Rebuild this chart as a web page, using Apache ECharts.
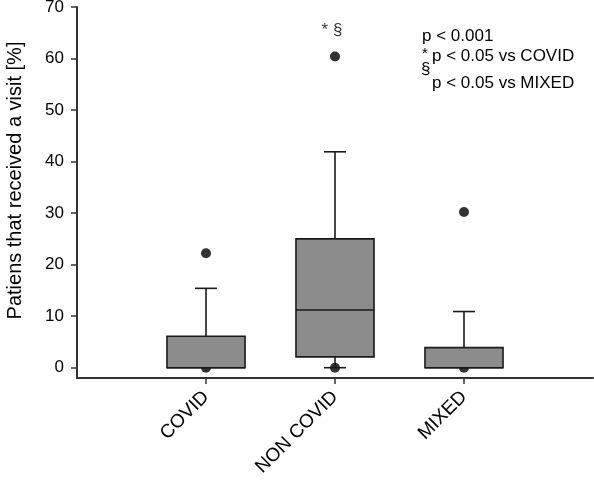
<!DOCTYPE html>
<html>
<head>
<meta charset="utf-8">
<script src="https://cdn.jsdelivr.net/npm/echarts@6/dist/echarts.min.js"></script>
<style>html,body{margin:0;padding:0;background:#fff}#c{width:594px;height:482px}</style>
</head>
<body>
<div id="c"></div>
<script>
var categories = ['COVID', 'NON COVID', 'MIXED'];
// [lowerWhisker, q1, median, q3, upperWhisker]
var boxStats = [
  [0, 0, 0, 6.1, 15.4],
  [0, 2.1, 11.2, 25.0, 41.9],
  [0, 0, 0, 3.9, 10.9]
];
// outliers: [categoryIndex (0-based), value]
var outliers = [[0, 0], [0, 22.2], [1, 0], [1, 60.4], [2, 0], [2, 30.2]];
var yTicks = [0, 10, 20, 30, 40, 50, 60, 70];
var yTitle = 'Patiens that received a visit [%]';
var pLines = ['p < 0.001', 'p < 0.05 vs COVID', 'p < 0.05 vs MIXED'];
var sigMark = '* §';

var axisCats = [''].concat(categories).concat(['']);
var FONT = 'Liberation Sans, Arial, sans-serif';
var chart = echarts.init(document.getElementById('c'), null, {renderer: 'canvas'});

var boxData = boxStats.map(function (s, i) { return [i + 1].concat(s); });
var outData = outliers.map(function (o) {
  var d = {value: [o[0] + 1, o[1]]};
  if (o[0] === 1 && o[1] > 50) {
    d.label = {show: true, formatter: sigMark, position: 'top', distance: 13, offset: [-3, 0],
      fontSize: 17, fontFamily: FONT, color: '#000'};
  }
  return d;
});

chart.setOption({
  animation: false,
  grid: {left: 77, right: 1, top: 7, bottom: 104, containLabel: false, outerBoundsMode: 'none'},
  xAxis: {
    type: 'category', data: axisCats, boundaryGap: false,
    axisLine: {onZero: false, lineStyle: {color: '#333', width: 2}},
    axisTick: {length: 6, lineStyle: {color: '#333', width: 1.5},
      interval: function (idx) { return idx >= 1 && idx <= categories.length; }},
    axisLabel: {rotate: 45, fontSize: 19, fontFamily: FONT, color: '#000', margin: 16, interval: 0},
    splitLine: {show: false}
  },
  yAxis: {
    type: 'value', min: -2, max: 70,
    name: yTitle, nameLocation: 'middle', nameGap: 52, nameRotate: 90,
    nameTextStyle: {fontSize: 20, fontFamily: FONT, color: '#000', padding: [0, 0, 0, 24]},
    axisLine: {show: true, lineStyle: {color: '#333', width: 2}},
    axisTick: {show: true, length: 6, customValues: yTicks, lineStyle: {color: '#333', width: 1.5}},
    axisLabel: {customValues: yTicks, fontSize: 17, fontFamily: FONT, color: '#000', margin: 13},
    splitLine: {show: false}
  },
  series: [
    {
      type: 'scatter', z: 1, symbol: 'circle', symbolSize: 10,
      itemStyle: {color: '#000'}, data: outData
    },
    {
      type: 'custom', z: 5,
      data: boxData,
      encode: {x: 0, y: [1, 2, 3, 4, 5]},
      renderItem: function (params, api) {
        var x = api.value(0);
        var pLow = api.coord([x, api.value(1)]);
        var pQ1 = api.coord([x, api.value(2)]);
        var pMed = api.coord([x, api.value(3)]);
        var pQ3 = api.coord([x, api.value(4)]);
        var pHigh = api.coord([x, api.value(5)]);
        var bw = api.size([1, 0])[0] * 0.605;
        var cw = api.size([1, 0])[0] * 0.17;
        var cx = pQ1[0];
        var ls = {stroke: '#1a1a1a', lineWidth: 1.6};
        var ch = [];
        if (pHigh[1] < pQ3[1]) {
          ch.push({type: 'line', shape: {x1: cx, y1: pQ3[1], x2: cx, y2: pHigh[1]}, style: ls});
          ch.push({type: 'line', shape: {x1: cx - cw / 2, y1: pHigh[1], x2: cx + cw / 2, y2: pHigh[1]}, style: ls});
        }
        if (pLow[1] > pQ1[1]) {
          ch.push({type: 'line', shape: {x1: cx, y1: pQ1[1], x2: cx, y2: pLow[1]}, style: ls});
          ch.push({type: 'line', shape: {x1: cx - cw / 2, y1: pLow[1], x2: cx + cw / 2, y2: pLow[1]}, style: ls});
        }
        ch.push({type: 'rect', shape: {x: cx - bw / 2, y: pQ3[1], width: bw, height: pQ1[1] - pQ3[1]},
          style: {fill: '#8c8c8c', stroke: '#1a1a1a', lineWidth: 1.6}});
        ch.push({type: 'line', shape: {x1: cx - bw / 2, y1: pMed[1], x2: cx + bw / 2, y2: pMed[1]}, style: ls});
        return {type: 'group', children: ch};
      }
    }
  ],
  graphic: [
    {type: 'text', left: 422, top: 28, style: {text: pLines[0], font: '17px ' + FONT, fill: '#000'}},
    {type: 'text', left: 422, top: 46, style: {text: '*', font: '15px ' + FONT, fill: '#000'}},
    {type: 'text', left: 432, top: 48, style: {text: pLines[1], font: '17px ' + FONT, fill: '#000'}},
    {type: 'text', left: 421, top: 61, style: {text: '§', font: '17px ' + FONT, fill: '#000'}},
    {type: 'text', left: 432, top: 75, style: {text: pLines[2], font: '17px ' + FONT, fill: '#000'}}
  ]
});
</script>
</body>
</html>
